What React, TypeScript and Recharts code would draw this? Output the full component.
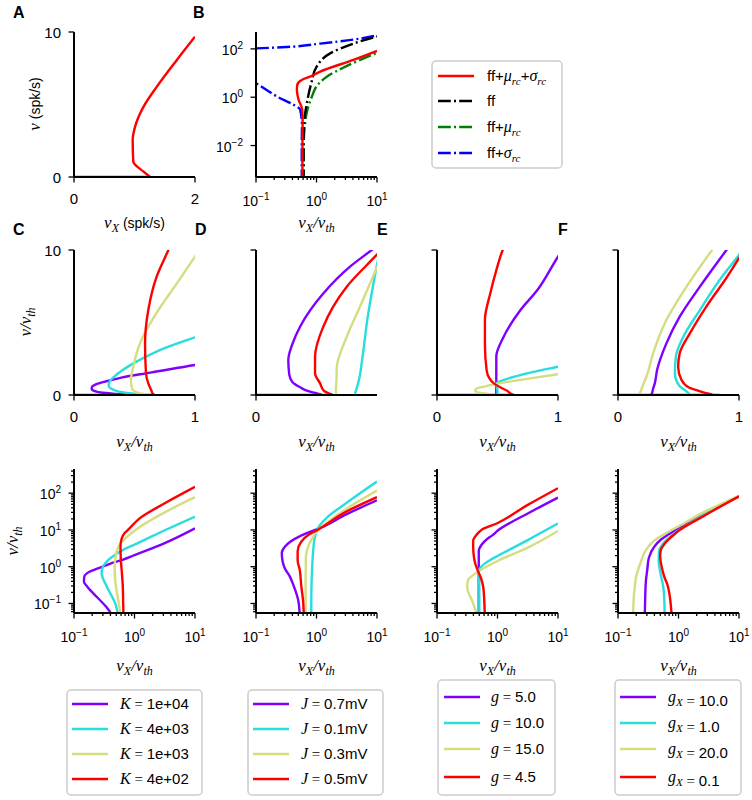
import React from 'react'
import { LineChart, Line, XAxis, YAxis } from 'recharts'

const SANS = "'Liberation Sans', Arial, sans-serif"
const SERIF = "'Liberation Serif', 'Times New Roman', serif"

const PURPLE = '#8000ff'
const CYAN = '#2adddd'
const OLIVE = '#d5dd80'
const RED = '#ff0000'
const DASHDOT = '12.8 3.2 2 3.2'

// ---- data: [x, y] pairs ordered along each curve ----

// A: rate (spk/s) vs input rate (spk/s)
const aFloor = [[0, 0], [1.26, 0]]
const aRate = [[1.26, 0], [1.15, 0.37], [0.98, 1.06], [0.97, 2.55], [1.01, 3.47], [1.15, 4.85], [1.37, 6.23], [1.7, 8.07], [2.0, 9.68]]

// B: log-log, four model variants
const bFull = [[0.585, 3e-4], [0.585, 0.01], [0.59, 0.1], [0.58, 0.31], [0.505, 0.8], [0.474, 2.0], [0.48, 3.2], [0.57, 5.2], [0.785, 7.1], [1.15, 11.5], [4.07, 35], [10, 83]]
const bFF = [[0.61, 3e-4], [0.61, 0.01], [0.62, 0.06], [0.64, 0.16], [0.71, 0.8], [0.82, 3.8], [1.0, 18], [1.68, 65], [4.07, 166], [10, 330]]
const bMu = [[0.615, 3e-4], [0.615, 0.01], [0.64, 0.063], [0.71, 0.31], [0.84, 1.07], [1.0, 2.8], [1.48, 7.1], [2.95, 18], [10, 69]]
const bSigmaLow = [[0.57, 3e-4], [0.57, 0.01], [0.575, 0.063], [0.537, 0.31], [0.417, 0.49], [0.222, 1.07], [0.15, 2.0], [0.1, 3.8]]
const bSigmaHigh = [[0.1, 105], [0.32, 120], [1.15, 166], [4.07, 243], [10, 360]]

// C: varying K
const k1e4 = [[0.45, 0.04], [0.42, 0.05], [0.34, 0.081], [0.237, 0.152], [0.166, 0.285], [0.146, 0.39], [0.148, 0.54], [0.18, 0.73], [0.27, 0.95], [0.4, 1.22], [0.63, 1.54], [1.0, 2.07], [3.16, 4.4], [10, 11.1]]
const k4e3 = [[0.56, 0.04], [0.54, 0.05], [0.48, 0.1], [0.35, 0.285], [0.286, 0.66], [0.3, 1.0], [0.33, 1.25], [0.49, 2.18], [0.71, 3.1], [1.0, 3.98], [3.16, 9.8], [10, 23]]
const k1e3 = [[0.6, 0.04], [0.59, 0.05], [0.54, 0.12], [0.48, 0.43], [0.47, 1.0], [0.49, 1.95], [0.545, 3.56], [0.68, 5.63], [0.85, 7.7], [1.0, 9.54], [3.16, 30], [10, 78]]
const k4e2 = [[0.66, 0.04], [0.65, 0.1], [0.64, 0.3], [0.614, 0.8], [0.595, 1.5], [0.587, 3.56], [0.614, 5.86], [0.683, 8.16], [0.78, 10], [1.23, 21], [3.16, 53], [10, 148]]
const cFloor = [[0, 0], [0.67, 0]]

// D: varying J
const j07 = [[0.54, 0.04], [0.53, 0.05], [0.5, 0.12], [0.42, 0.3], [0.365, 0.53], [0.3, 0.9], [0.275, 1.4], [0.267, 2.41], [0.3, 3.5], [0.364, 4.71], [0.556, 7.0], [0.777, 8.85], [0.956, 10], [3.16, 27], [10, 64]]
const j01 = [[0.82, 0.04], [0.82, 0.1], [0.83, 0.4], [0.85, 1.0], [0.88, 2.6], [0.92, 5.2], [0.98, 8.1], [1.05, 11], [1.5, 22], [3.16, 55], [10, 208]]
const j03 = [[0.66, 0.04], [0.66, 0.3], [0.665, 1.0], [0.667, 1.84], [0.75, 4.02], [0.86, 6.1], [0.997, 8.74], [3.16, 38], [10, 118]]
const j05 = [[0.63, 0.04], [0.62, 0.05], [0.6, 0.12], [0.56, 0.3], [0.53, 0.8], [0.488, 1.5], [0.488, 2.64], [0.556, 4.71], [0.75, 7.47], [0.997, 9.66], [3.16, 32], [10, 78]]
const dFloor = [[0, 0], [0.64, 0]]

// E: varying g
const g50 = [[0.49, 0.04], [0.49, 1.0], [0.49, 2.64], [0.55, 4.0], [0.69, 5.86], [0.83, 7.24], [1.0, 9.54], [3.16, 28], [10, 76]]
const g100 = [[0.5, 0.04], [0.5, 0.3], [0.49, 0.8], [0.55, 1.03], [0.77, 1.54], [1.0, 1.95], [3.16, 5.3], [10, 15]]
const g150 = [[0.46, 0.04], [0.45, 0.05], [0.38, 0.12], [0.33, 0.2], [0.315, 0.285], [0.325, 0.43], [0.4, 0.6], [0.55, 0.85], [0.77, 1.15], [1.0, 1.43], [3.16, 3.3], [10, 9.4]]
const g45 = [[0.63, 0.04], [0.62, 0.05], [0.6, 0.15], [0.58, 0.285], [0.53, 0.5], [0.47, 0.8], [0.43, 1.2], [0.41, 1.72], [0.396, 3.56], [0.396, 5.17], [0.44, 7.0], [0.49, 8.6], [0.543, 10], [0.97, 15], [3.16, 48], [10, 137]]
const eFloor = [[0, 0], [0.64, 0]]

// F: varying g_X
const gx100 = [[0.277, 0.04], [0.28, 0.1], [0.29, 0.43], [0.304, 0.8], [0.323, 1.72], [0.4, 3.56], [0.51, 5.4], [0.677, 7.47], [0.892, 9.95], [2.5, 27], [10, 82]]
const gx10 = [[0.59, 0.04], [0.585, 0.1], [0.56, 0.285], [0.51, 0.6], [0.47, 1.5], [0.478, 2.64], [0.54, 4.02], [0.677, 5.86], [0.84, 7.93], [1.0, 9.66], [2.5, 25], [10, 83]]
const gx200 = [[0.178, 0.04], [0.18, 0.1], [0.19, 0.3], [0.2, 0.54], [0.235, 1.26], [0.29, 2.87], [0.4, 5.17], [0.566, 7.47], [0.773, 9.95], [1.0, 12.5], [2.57, 30], [10, 85]]
const gx01 = [[0.78, 0.04], [0.77, 0.05], [0.72, 0.15], [0.65, 0.34], [0.59, 0.5], [0.525, 1.03], [0.497, 1.95], [0.51, 2.87], [0.594, 4.25], [0.73, 6.1], [0.884, 7.93], [1.0, 9.43], [2.5, 23], [10, 82]]
const fFloor = [[0, 0], [0.84, 0]]

// legend labels
const kLabels = ['1e+04', '4e+03', '1e+03', '4e+02']
const jLabels = ['0.7mV', '0.1mV', '0.3mV', '0.5mV']
const gLabels = ['5.0', '10.0', '15.0', '4.5']
const gxLabels = ['10.0', '1.0', '20.0', '0.1']
const rainbow = [PURPLE, CYAN, OLIVE, RED]

// ticks
const logMinorX = [0.2, 0.3, 0.4, 0.5, 0.6, 0.7, 0.8, 0.9, 2, 3, 4, 5, 6, 7, 8, 9]
const logMinorY = [0.06, 0.07, 0.08, 0.09, 0.2, 0.3, 0.4, 0.5, 0.6, 0.7, 0.8, 0.9, 2, 3, 4, 5, 6, 7, 8, 9, 20, 30, 40, 50, 60, 70, 80, 90, 200, 300, 400]

type XY = number[][]
type Series = { data: XY; color: string; dash?: string; curve?: 'linear' | 'monotoneY' }
type AxisCfg = {
  log?: boolean
  domain: [number, number]
  major: number[]
  minor?: number[]
  labeled?: number[]
}

const toPts = (a: XY) => a.map(([x, y]) => ({ x, y }))

const ML = 72
const MT = 10
const MR = 14
const MB = 44
const MAJOR_LEN = 5.5
const MINOR_LEN = 3
const LW = 2.4

function TickText({ x, y, v, log, anchor }: { x: number; y: number; v: number; log?: boolean; anchor: string }) {
  if (log) {
    const e = Math.round(Math.log10(v))
    return (
      <text x={x} y={y} textAnchor={anchor as any} fontFamily={SANS} fontSize={14} fill="#000">
        10<tspan dy={-6} fontSize={10}>{e < 0 ? '\u2212' + -e : String(e)}</tspan>
      </text>
    )
  }
  return (
    <text x={x} y={y} textAnchor={anchor as any} fontFamily={SANS} fontSize={15} fill="#000">
      {v}
    </text>
  )
}

const xTick = (cfg: AxisCfg) => (p: any) => {
  const v = p.payload.value
  const len = cfg.major.includes(v) ? MAJOR_LEN : MINOR_LEN
  return (
    <g>
      <line x1={p.x} x2={p.x} y1={p.y} y2={p.y + len} stroke="#000" strokeWidth={1.3} />
      {cfg.labeled?.includes(v) && (
        <TickText x={p.x} y={p.y + (cfg.log ? 29 : 27)} v={v} log={cfg.log} anchor="middle" />
      )}
    </g>
  )
}

const yTick = (cfg: AxisCfg) => (p: any) => {
  const v = p.payload.value
  const len = cfg.major.includes(v) ? MAJOR_LEN : MINOR_LEN
  return (
    <g>
      <line x1={p.x - len} x2={p.x} y1={p.y} y2={p.y} stroke="#000" strokeWidth={1.3} />
      {cfg.labeled?.includes(v) && (
        <TickText x={p.x - 13} y={p.y + (cfg.log ? 6 : 5.5)} v={v} log={cfg.log} anchor="end" />
      )}
    </g>
  )
}

function Panel({ left, top, w = 121, h = 145, x, y, series }: {
  left: number; top: number; w?: number; h?: number; x: AxisCfg; y: AxisCfg; series: Series[]
}) {
  return (
    <div style={{ position: 'absolute', left: left - ML, top: top - MT }}>
      <LineChart width={ML + w + MR} height={MT + h + MB} margin={{ top: MT, right: MR, bottom: 0, left: 0 }}>
        <XAxis
          type="number"
          dataKey="x"
          scale={x.log ? 'log' : 'linear'}
          domain={x.domain}
          allowDataOverflow
          ticks={[...x.major, ...(x.minor ?? [])]}
          interval={0}
          height={MB}
          tickSize={0}
          tickMargin={0}
          tickLine={false}
          axisLine={{ stroke: '#000', strokeWidth: 2 }}
          tick={xTick(x)}
        />
        <YAxis
          type="number"
          scale={y.log ? 'log' : 'linear'}
          domain={y.domain}
          allowDataOverflow
          ticks={[...y.major, ...(y.minor ?? [])]}
          interval={0}
          width={ML}
          tickSize={0}
          tickMargin={0}
          tickLine={false}
          axisLine={{ stroke: '#000', strokeWidth: 2 }}
          tick={yTick(y)}
        />
        {series.map((s, i) => (
          <Line
            key={i}
            data={toPts(s.data)}
            dataKey="y"
            type={s.curve ?? 'monotoneY'}
            stroke={s.color}
            strokeWidth={LW}
            strokeDasharray={s.dash}
            dot={false}
            activeDot={false}
            isAnimationActive={false}
          />
        ))}
      </LineChart>
    </div>
  )
}

// axis configs
const linX: AxisCfg = { domain: [0, 1], major: [0, 1], labeled: [0, 1] }
const linXD: AxisCfg = { domain: [0, 1], major: [0], labeled: [0] }
const linY: AxisCfg = { domain: [0, 10], major: [0, 10], labeled: [0, 10] }
const linYBare: AxisCfg = { domain: [0, 10], major: [0, 10] }
const logX: AxisCfg = { log: true, domain: [0.1, 10], major: [0.1, 1, 10], minor: logMinorX, labeled: [0.1, 1, 10] }
const logY: AxisCfg = { log: true, domain: [0.055, 455], major: [0.1, 1, 10, 100], minor: logMinorY, labeled: [0.1, 1, 10, 100] }
const logYBare: AxisCfg = { log: true, domain: [0.055, 455], major: [0.1, 1, 10, 100], minor: logMinorY }

const curves = (list: XY[]): Series[] => list.map((d, i) => ({ data: d, color: rainbow[i] }))
const withFloor = (floor: XY, list: XY[]): Series[] => [{ data: floor, color: RED, curve: 'linear' }, ...curves(list)]

const cols = [
  { left: 74, list: [k1e4, k4e3, k1e3, k4e2], floor: cFloor },
  { left: 256, list: [j07, j01, j03, j05], floor: dFloor },
  { left: 437, list: [g50, g100, g150, g45], floor: eFloor },
  { left: 618, list: [gx100, gx10, gx200, gx01], floor: fFloor },
]

// ---- text helpers ----
const Sub = ({ children }: { children: React.ReactNode }) => (
  <tspan fontFamily={SERIF} fontStyle="italic" fontSize={11} dy={4}>{children}</tspan>
)

function NuRatio({ x, y }: { x: number; y: number }) {
  return (
    <text x={x} y={y} textAnchor="middle" fontFamily={SERIF} fontStyle="italic" fontSize={17}>
      ν<tspan fontSize={12} dy={4}>X</tspan>
      <tspan dy={-4}>/ν</tspan>
      <tspan fontSize={12} dy={4}>th</tspan>
    </text>
  )
}

function LegendBox({ x, y, w, h, rows, lineX, textX, items }: {
  x: number; y: number; w: number; h: number; rows: number[]; lineX: number; textX: number
  items: { color: string; dash?: string; label: React.ReactNode }[]
}) {
  return (
    <g>
      <rect x={x} y={y} width={w} height={h} rx={4} fill="#fff" stroke="#cccccc" strokeWidth={1.5} />
      {items.map((it, i) => (
        <g key={i}>
          <line x1={lineX} x2={lineX + 36} y1={rows[i]} y2={rows[i]} stroke={it.color} strokeWidth={LW} strokeDasharray={it.dash} />
          <text x={textX} y={rows[i] + 5} fontFamily={SANS} fontSize={15}>{it.label}</text>
        </g>
      ))}
    </g>
  )
}

const eq = (sym: React.ReactNode, val: string) => (
  <>
    {sym}
    <tspan fontFamily={SERIF}> = </tspan>
    <tspan fontFamily={SANS}>{val}</tspan>
  </>
)
const itl = (s: string) => <tspan fontFamily={SERIF} fontStyle="italic" fontSize={16}>{s}</tspan>

const bItems = [
  {
    color: RED,
    label: (
      <>
        ff+{itl('μ')}<Sub>rc</Sub><tspan dy={-4}>+</tspan>{itl('σ')}<Sub>rc</Sub>
      </>
    ),
  },
  { color: '#000', dash: DASHDOT, label: <>ff</> },
  { color: '#008000', dash: DASHDOT, label: <>ff+{itl('μ')}<Sub>rc</Sub></> },
  { color: '#0000ff', dash: DASHDOT, label: <>ff+{itl('σ')}<Sub>rc</Sub></> },
]

const legendCols = [
  { x: 67, y: 690, w: 135, h: 105, rows: [704, 729, 754, 779], lineX: 72, textX: 120, items: kLabels.map((v, i) => ({ color: rainbow[i], label: eq(itl('K'), v) })) },
  { x: 248, y: 690, w: 135, h: 105, rows: [704, 729, 754, 779], lineX: 253, textX: 301, items: jLabels.map((v, i) => ({ color: rainbow[i], label: eq(itl('J'), v) })) },
  { x: 438, y: 680, w: 117, h: 115, rows: [697, 723, 749, 777], lineX: 444, textX: 491, items: gLabels.map((v, i) => ({ color: rainbow[i], label: eq(itl('g'), v) })) },
  {
    x: 615, y: 680, w: 126, h: 115, rows: [697, 723, 749, 777], lineX: 620, textX: 668,
    items: gxLabels.map((v, i) => ({ color: rainbow[i], label: eq(<>{itl('g')}<Sub>X</Sub><tspan dy={-4} /></>, v) })),
  },
]

export default function App() {
  return (
    <div style={{ position: 'absolute', left: 0, top: 0, width: 752, height: 800, background: '#fff' }}>
      <Panel
        left={74}
        top={32}
        x={{ domain: [0, 2], major: [0, 2], labeled: [0, 2] }}
        y={linY}
        series={[
          { data: aFloor, color: RED, curve: 'linear' },
          { data: aRate, color: RED },
        ]}
      />
      <Panel
        left={256}
        top={32}
        x={logX}
        y={{ log: true, domain: [5e-4, 500], major: [0.01, 1, 100], labeled: [0.01, 1, 100] }}
        series={[
          { data: bSigmaLow, color: '#0000ff', dash: DASHDOT },
          { data: bSigmaHigh, color: '#0000ff', dash: DASHDOT },
          { data: bMu, color: '#008000', dash: DASHDOT },
          { data: bFF, color: '#000', dash: DASHDOT },
          { data: bFull, color: RED },
        ]}
      />
      {cols.map((c, i) => (
        <Panel
          key={'lin' + i}
          left={c.left}
          top={250}
          x={i === 1 ? linXD : linX}
          y={i === 0 ? linY : linYBare}
          series={withFloor(c.floor, c.list)}
        />
      ))}
      {cols.map((c, i) => (
        <Panel key={'log' + i} left={c.left} top={469} h={144} x={logX} y={i === 0 ? logY : logYBare} series={curves(c.list)} />
      ))}

      <svg width={752} height={800} style={{ position: 'absolute', left: 0, top: 0, pointerEvents: 'none' }}>
        <g fontFamily={SANS} fontWeight="bold" fontSize={16}>
          <text x={13} y={18}>A</text>
          <text x={193} y={18}>B</text>
          <text x={13} y={235}>C</text>
          <text x={195} y={235}>D</text>
          <text x={377} y={235}>E</text>
          <text x={558} y={235}>F</text>
        </g>

        {/* axis titles */}
        <text x={134.5} y={228} textAnchor="middle" fontFamily={SERIF} fontStyle="italic" fontSize={17}>
          ν<tspan fontSize={12} dy={4}>X</tspan>
          <tspan dy={-4} fontFamily={SANS} fontStyle="normal" fontSize={14}> (spk/s)</tspan>
        </text>
        <NuRatio x={316.5} y={228} />
        <text transform="translate(40,104) rotate(-90)" textAnchor="middle" fontFamily={SERIF} fontStyle="italic" fontSize={17}>
          ν<tspan fontFamily={SANS} fontStyle="normal" fontSize={14}> (spk/s)</tspan>
        </text>
        {cols.map((c, i) => (
          <NuRatio key={'t1' + i} x={c.left + 60.5} y={447} />
        ))}
        {cols.map((c, i) => (
          <NuRatio key={'t2' + i} x={c.left + 60.5} y={671} />
        ))}
        <text transform="translate(31,322) rotate(-90)" textAnchor="middle" fontFamily={SERIF} fontStyle="italic" fontSize={17}>
          ν/ν<tspan fontSize={12} dy={4}>th</tspan>
        </text>
        <text transform="translate(18,541) rotate(-90)" textAnchor="middle" fontFamily={SERIF} fontStyle="italic" fontSize={17}>
          ν/ν<tspan fontSize={12} dy={4}>th</tspan>
        </text>

        {/* legends */}
        <LegendBox x={432} y={61} w={130} h={107} rows={[76, 101, 127, 153]} lineX={438} textX={487} items={bItems} />
        {legendCols.map((l, i) => (
          <LegendBox key={'lg' + i} {...l} />
        ))}
      </svg>
    </div>
  )
}
